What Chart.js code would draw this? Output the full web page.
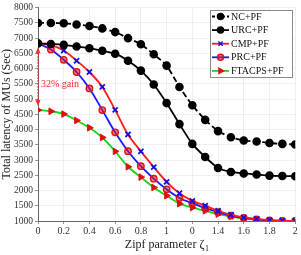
<!DOCTYPE html>
<html><head><meta charset="utf-8">
<script src="https://cdn.jsdelivr.net/npm/chart.js@4"></script>
<style>html,body{margin:0;padding:0;background:#fff}#w{width:301px;height:255px}</style>
</head><body><div id="w"><canvas id="c" width="301" height="255"></canvas></div>
<script>
const xValues = [0,0.1,0.2,0.3,0.4,0.5,0.6,0.7,0.8,0.9,1.0,1.1,1.2,1.3,1.4,1.5,1.6,1.7,1.8,1.9,2.0];
const ncPF     = [7500,7500,7490,7450,7400,7320,7200,7000,6800,6470,6100,5400,4800,4320,3950,3750,3640,3610,3560,3530,3510];
const urcPF    = [6830,6810,6780,6725,6670,6585,6490,6260,5935,5480,4870,4180,3530,3100,2740,2610,2560,2525,2490,2475,2470];
const cmpPF    = [6830,6770,6595,6260,5890,5400,4645,3840,3285,2770,2285,1910,1660,1505,1335,1205,1120,1070,1030,1010,1000];
const prcPF    = [6830,6630,6290,5890,5350,4640,3910,3290,2800,2390,2040,1755,1585,1420,1290,1175,1100,1050,1020,1005,1000];
const ftacpsPF = [4640,4600,4510,4300,4060,3740,3285,2780,2440,2100,1830,1570,1440,1335,1225,1150,1080,1045,1015,1005,1000];
const seriesNames = ['NC+PF','URC+PF','CMP+PF','PRC+PF','FTACPS+PF'];
const xTickValues = [0,0.2,0.4,0.6,0.8,1,1.2,1.4,1.6,1.8,2];
const xTickLabels = ['0','0.2','0.4','0.6','0.8','1','0','1.4','1.6','1.8','2'];
const gainText = '32% gain';
const xTitleMain = 'Zipf parameter ζ';
const xTitleSub = '1';

const SERIF = '"Liberation Serif", "DejaVu Serif", serif';
const pts = arr => arr.map((v,i)=>({x:xValues[i], y:v}));

const datasets = [
  {label:seriesNames[0], data:pts(ncPF), borderColor:'#000', borderWidth:1.8, borderDash:[6,3],
   pointStyle:'circle', pointRadius:3.4, pointBackgroundColor:'#000', pointBorderColor:'#000', tension:0.2,
   legendMarker:'circle', markerColor:'#000', markerFill:'#000'},
  {label:seriesNames[1], data:pts(urcPF), borderColor:'#000', borderWidth:1.8,
   pointStyle:'circle', pointRadius:3.4, pointBackgroundColor:'#000', pointBorderColor:'#000', tension:0.2,
   legendMarker:'circle', markerColor:'#000', markerFill:'#000'},
  {label:seriesNames[2], data:pts(cmpPF), borderColor:'#ff1a1a', borderWidth:1.8,
   pointStyle:'crossRot', pointRadius:3.6, pointBorderWidth:1.8, pointBorderColor:'#1010e0', pointBackgroundColor:'#1010e0', tension:0.35,
   legendMarker:'crossRot', markerColor:'#1010e0', markerFill:'#1010e0'},
  {label:seriesNames[3], data:pts(prcPF), borderColor:'#1a1aff', borderWidth:1.8,
   pointStyle:'circle', pointRadius:3.2, pointBorderWidth:1.4, pointBorderColor:'#e01010', pointBackgroundColor:'rgba(220,20,40,0.55)', tension:0.35,
   legendMarker:'circle', markerColor:'#e01010', markerFill:'rgba(220,20,40,0.55)'},
  {label:seriesNames[4], data:pts(ftacpsPF), borderColor:'#1ad21a', borderWidth:1.8,
   pointStyle:'triangle', rotation:90, pointRadius:3.8, pointBorderWidth:1, pointBorderColor:'#dd1010', pointBackgroundColor:'#dd1010', tension:0.35,
   legendMarker:'triangle', markerColor:'#dd1010', markerFill:'#dd1010'}
];

const extras = {
  id:'extras',
  afterDatasetsDraw(chart){
    const ctx = chart.ctx, xs = chart.scales.x, ys = chart.scales.y;
    const px = xs.getPixelForValue(0);
    const y1 = ys.getPixelForValue(cmpPF[0]) + 4, y2 = ys.getPixelForValue(ftacpsPF[0]) - 4;
    ctx.save();
    ctx.strokeStyle = '#ff2a2a'; ctx.fillStyle = '#ff2a2a'; ctx.lineWidth = 1.4;
    ctx.setLineDash([1.5,1.5]);
    ctx.beginPath(); ctx.moveTo(px, y1+3); ctx.lineTo(px, y2-3); ctx.stroke();
    ctx.setLineDash([]);
    ctx.beginPath(); ctx.moveTo(px, y1); ctx.lineTo(px-2.5, y1+6); ctx.lineTo(px+2.5, y1+6); ctx.closePath(); ctx.fill();
    ctx.beginPath(); ctx.moveTo(px, y2); ctx.lineTo(px-2.5, y2-6); ctx.lineTo(px+2.5, y2-6); ctx.closePath(); ctx.fill();
    ctx.font = '10px ' + SERIF; ctx.textAlign='left'; ctx.textBaseline='middle';
    ctx.fillText(gainText, px+3, ys.getPixelForValue(5500));
    ctx.restore();
  },
  afterDraw(chart){
    const ctx = chart.ctx;
    // x title with subscript
    const ca = chart.chartArea;
    ctx.save();
    ctx.fillStyle = '#222'; ctx.textBaseline = 'alphabetic'; ctx.textAlign = 'left';
    ctx.font = '12px ' + SERIF;
    const w1 = ctx.measureText(xTitleMain).width;
    ctx.font = '8px ' + SERIF;
    const w2 = ctx.measureText(xTitleSub).width;
    const sx = (ca.left + ca.right)/2 - (w1+w2)/2;
    const by0 = 248;
    ctx.font = '12px ' + SERIF; ctx.fillText(xTitleMain, sx, by0);
    ctx.font = '8px ' + SERIF; ctx.fillText(xTitleSub, sx + w1 + 0.5, by0 + 2.5);
    ctx.restore();

    const bx = 210, bY = 10, bw = 82, bh = 67;
    ctx.save();
    ctx.fillStyle = '#fff'; ctx.fillRect(bx,bY,bw,bh);
    ctx.strokeStyle = '#8a8a8a'; ctx.lineWidth = 1; ctx.strokeRect(bx+0.5,bY+0.5,bw,bh);
    ctx.font = '10px ' + SERIF; ctx.textBaseline = 'middle'; ctx.textAlign = 'left';
    chart.data.datasets.forEach((ds,i)=>{
      const yy = bY + 6.5 + i*13.6;
      ctx.save();
      ctx.strokeStyle = ds.borderColor; ctx.lineWidth = 1.8;
      if (ds.borderDash) ctx.setLineDash([3,2]);
      ctx.beginPath(); ctx.moveTo(bx+2, yy); ctx.lineTo(bx+19, yy); ctx.stroke();
      ctx.restore();
      ctx.save();
      ctx.fillStyle = ds.markerFill; ctx.strokeStyle = ds.markerColor; ctx.lineWidth = 1.5;
      Chart.helpers.drawPoint(ctx, {pointStyle: ds.legendMarker, radius: 3, rotation: ds.rotation||0, borderWidth: 1.5}, bx+10.5, yy);
      ctx.restore();
      ctx.fillStyle = '#111';
      ctx.fillText(ds.label, bx+21, yy+0.5);
    });
    ctx.restore();
  }
};

new Chart(document.getElementById('c'), {
  type:'line',
  data:{datasets},
  options:{
    responsive:false, animation:false, devicePixelRatio:1,
    layout:{padding:{top:6, right:5, left:0, bottom:0}},
    plugins:{legend:{display:false}, tooltip:{enabled:false}},
    scales:{
      x:{type:'linear', min:0, max:2,
        afterBuildTicks(s){ s.ticks = xTickValues.map(v=>({value:v})); },
        afterFit(s){ s.height = 34; },
        ticks:{color:'#333', font:{family:SERIF, size:10}, padding:1, maxRotation:0, autoSkip:false,
          callback(v){ const i = xTickValues.findIndex(t=>Math.abs(t-v)<1e-9); return i>=0? xTickLabels[i] : ''; }},
        grid:{color:'#ebebeb', lineWidth:0.8, tickLength:3, tickColor:'#777'},
        border:{color:'#666', width:1},
        title:{display:false}
      },
      y:{min:1000, max:8000,
        afterFit(s){ s.width = 38; },
        ticks:{stepSize:500, color:'#333', font:{family:SERIF, size:9.5}, padding:2, autoSkip:false,
          callback(v){ return String(v); }},
        grid:{color:'#ebebeb', lineWidth:0.8, tickLength:3, tickColor:'#777'},
        border:{color:'#666', width:1},
        title:{display:true, text:'Total latency of MUs (Sec)', color:'#222', font:{family:SERIF, size:12}, padding:{top:0,bottom:0}}
      }
    }
  },
  plugins:[extras]
});
</script></body></html>
